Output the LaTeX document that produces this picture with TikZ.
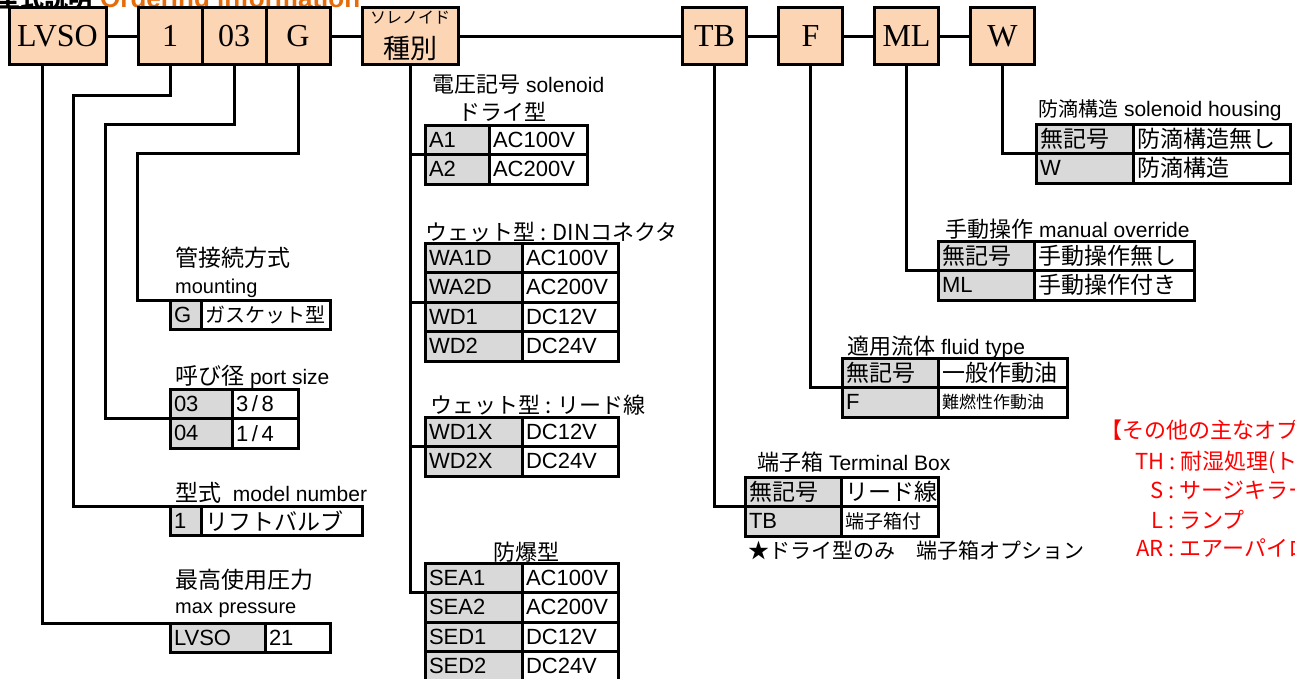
\documentclass[tikz,border=0pt]{standalone}
\usepackage{fontspec}
\setmainfont{Liberation Sans}
\newfontfamily\jp{Noto Sans CJK JP}
\newfontfamily\boxserif{Liberation Serif}
\usetikzlibrary{positioning,calc}
\definecolor{peach}{HTML}{FCD5B4}
\definecolor{cellgrey}{HTML}{D9D9D9}
\definecolor{titleorange}{HTML}{E46C0A}
\newcommand{\fs}[1]{\fontsize{#1}{#1}\selectfont}

% one row of an option table: name, corner, code width, value width, code, value
\newcommand{\optrow}[6]{%
  \pgfmathsetmacro{\cw}{#3-8}\pgfmathsetmacro{\vw}{#4-8}%
  \node[codecell, text width=\cw pt, anchor=north west] (#1c) at (#2) {#5};
  \node[valcell, text width=\vw pt, anchor=north west] (#1v) at (#1c.north east) {#6};}

\begin{document}
\begin{tikzpicture}[x=1pt, y=-1pt,
    wire/.style={line width=3pt},
    optbox/.style={draw, line width=3pt, fill=peach, minimum height=57pt,
      inner sep=0pt, outer sep=0pt, font=\boxserif\fs{32}},
    codecell/.style={draw, line width=3pt, fill=cellgrey, minimum height=29.5pt,
      inner xsep=4pt, inner ysep=0pt, outer sep=0pt, align=left, font=\fs{22}},
    valcell/.style={codecell, fill=white},
    heading/.style={anchor=west, inner sep=0pt, font=\fs{21}}]
  \useasboundingbox (0,0) rectangle (1295,678);

  % title, cut off at the top edge
  \node[anchor=base east, inner sep=0pt, font=\jp\bfseries\fs{24}] (ttl) at (93,7) {型式説明};
  \node[anchor=base west, inner sep=0pt, font=\bfseries\fs{26}, text=titleorange] (ttlen) at (100,7) {Ordering information};

  % code boxes
  \node[optbox, minimum width=97pt] (lvso) at (57.5,36) {LVSO};
  \node[optbox, minimum width=64pt] (b1) at (170,36) {1};
  \node[optbox, minimum width=64pt, right=0pt of b1] (b03) {03};
  \node[optbox, minimum width=64pt, right=0pt of b03] (bG) {G};
  \node[optbox, minimum width=96pt, align=center, font=\jp] (sol) at (410,36)
    {\fontsize{16}{16}\selectfont ソレノイド\\[11pt]\fontsize{27}{27}\selectfont 種別};
  \node[optbox, minimum width=64pt] (bTB) at (714.5,36) {TB};
  \node[optbox, minimum width=64pt, right=32pt of bTB] (bF) {F};
  \node[optbox, minimum width=64pt, right=32pt of bF] (bML) {ML};
  \node[optbox, minimum width=64pt, right=32pt of bML] (bW) {W};

  \draw[wire] (lvso) -- (b1);
  \draw[wire] (bG) -- (sol);
  \draw[wire] (sol) -- (bTB);
  \draw[wire] (bTB) -- (bF);
  \draw[wire] (bF) -- (bML);
  \draw[wire] (bML) -- (bW);

  % left hand tables
  \node[heading, font=\jp\fs{23}] (hmount) at (175,258) {管接続方式};
  \node[heading, font=\fs{20}] (hmounten) at (175,288) {mounting};
  \optrow{gk}{170,300}{31}{129}{G}{\jp\fs{20}ガスケット型}

  \node[heading] (hport) at (175,377) {{\jp\fs{23}呼び径} port size};
  \foreach \code/\val [count=\i] in {03/{3\,/\,8}, 04/{1\,/\,4}}
    \optrow{ps\i}{170,{389+29.5*(\i-1)}}{62}{66}{\code}{\val};

  \node[heading] (hmodel) at (175,493) {{\jp\fs{23}型式}\ \ model number};
  \optrow{mn}{170,506}{31}{161}{1}{\jp\fs{23}リフトバルブ}

  \node[heading, font=\jp\fs{23}] (hpress) at (175,580) {最高使用圧力};
  \node[heading, font=\fs{20}] (hpressen) at (175,610) {max pressure};
  \optrow{pr}{170,623}{95}{65}{LVSO}{21}

  \draw[wire] ([xshift=-15.5pt]lvso.south) |- (prc.north west);
  \draw[wire] (b1.south) |- (73,95) |- (mnc.north west);
  \draw[wire] (b03.south) |- (105,124) |- (ps2c.north west);
  \draw[wire] (bG.south) |- (137,153) |- (gkc.north west);

  % solenoid tables
  \node[heading] (hvolt) at (432,85) {{\jp\fs{22}電圧記号} solenoid};
  \node[heading, font=\jp\fs{22}] (hdry) at (458,112) {ドライ型};
  \foreach \code/\val [count=\i] in {A1/AC100V, A2/AC200V}
    \optrow{dry\i}{425,{125+29.5*(\i-1)}}{64}{98}{\code}{\val};

  \node[heading, font=\jp\fs{22}] (hdin) at (425,232) {ウェット型 : DINコネクタ};
  \foreach \code/\val [count=\i] in {WA1D/AC100V, WA2D/AC200V, WD1/DC12V, WD2/DC24V}
    \optrow{din\i}{425,{243+29.5*(\i-1)}}{97}{96}{\code}{\val};

  \node[heading, font=\jp\fs{22}] (hlead) at (430,405) {ウェット型 : リード線};
  \foreach \code/\val [count=\i] in {WD1X/DC12V, WD2X/DC24V}
    \optrow{lead\i}{425,{417+29.5*(\i-1)}}{97}{96}{\code}{\val};

  \node[heading, anchor=center, font=\jp\fs{22}] (hex) at (526,552) {防爆型};
  \foreach \code/\val [count=\i] in {SEA1/AC100V, SEA2/AC200V, SED1/DC12V, SED2/DC24V}
    \optrow{ex\i}{425,{563+29.5*(\i-1)}}{97}{96}{\code}{\val};

  \draw[wire] (sol.south) |- (ex2c.north west);
  \draw[wire] (sol.south |- dry2c.north west) -- (dry2c.north west);
  \draw[wire] (sol.south |- din3c.north west) -- (din3c.north west);
  \draw[wire] (sol.south |- lead2c.north west) -- (lead2c.north west);

  % right hand tables
  \node[heading] (hhous) at (1038,110) {{\jp\fs{20}防滴構造} solenoid housing};
  \optrow{hs1}{1036,124}{97}{157}{\jp\fs{23}無記号}{\jp\fs{23}防滴構造無し}
  \optrow{hs2}{1036,153.5}{97}{157}{W}{\jp\fs{23}防滴構造}

  \node[heading] (hman) at (945,229) {{\jp\fs{22}手動操作} manual override};
  \optrow{mo1}{938,241}{96}{160}{\jp\fs{23}無記号}{\jp\fs{23}手動操作無し}
  \optrow{mo2}{938,270.5}{96}{160}{ML}{\jp\fs{23}手動操作付き}

  \node[heading] (hfl) at (847,347) {{\jp\fs{22}適用流体} fluid type};
  \optrow{fl1}{842,358}{96}{129}{\jp\fs{23}無記号}{\jp\fs{23}一般作動油}
  \optrow{fl2}{842,387.5}{96}{129}{F}{\jp\fs{17}難燃性作動油}

  \node[heading] (htb) at (757,462) {{\jp\fs{22}端子箱} Terminal Box};
  \optrow{tb1}{745,477}{96}{97}{\jp\fs{23}無記号}{\jp\fs{23}リード線}
  \optrow{tb2}{745,506.5}{96}{97}{TB}{\jp\fs{19}端子箱付}
  \node[heading, font=\jp\fs{21}] (hnote) at (748,550) {★ドライ型のみ　端子箱オプション};

  \draw[wire] (bW.south) |- (hs2c.north west);
  \draw[wire] (bML.south) |- (mo2c.north west);
  \draw[wire] (bF.south) |- (fl2c.north west);
  \draw[wire] (bTB.south) |- (tb2c.north west);

  % other options, cut off at the right edge
  \node[heading, font=\jp\fs{22}, text=red] (opt0) at (1100,430) {【その他の主なオプ};
  \node[heading, font=\jp\fs{22}, text=red] (opt1) at (1135,462) {TH : 耐湿処理(ト};
  \node[heading, font=\jp\fs{22}, text=red] (opt2) at (1150,490) {S : サージキラー};
  \node[heading, font=\jp\fs{22}, text=red] (opt3) at (1151,520) {L : ランプ};
  \node[heading, font=\jp\fs{22}, text=red] (opt4) at (1136,548) {AR : エアーパイロ};
\end{tikzpicture}
\end{document}
